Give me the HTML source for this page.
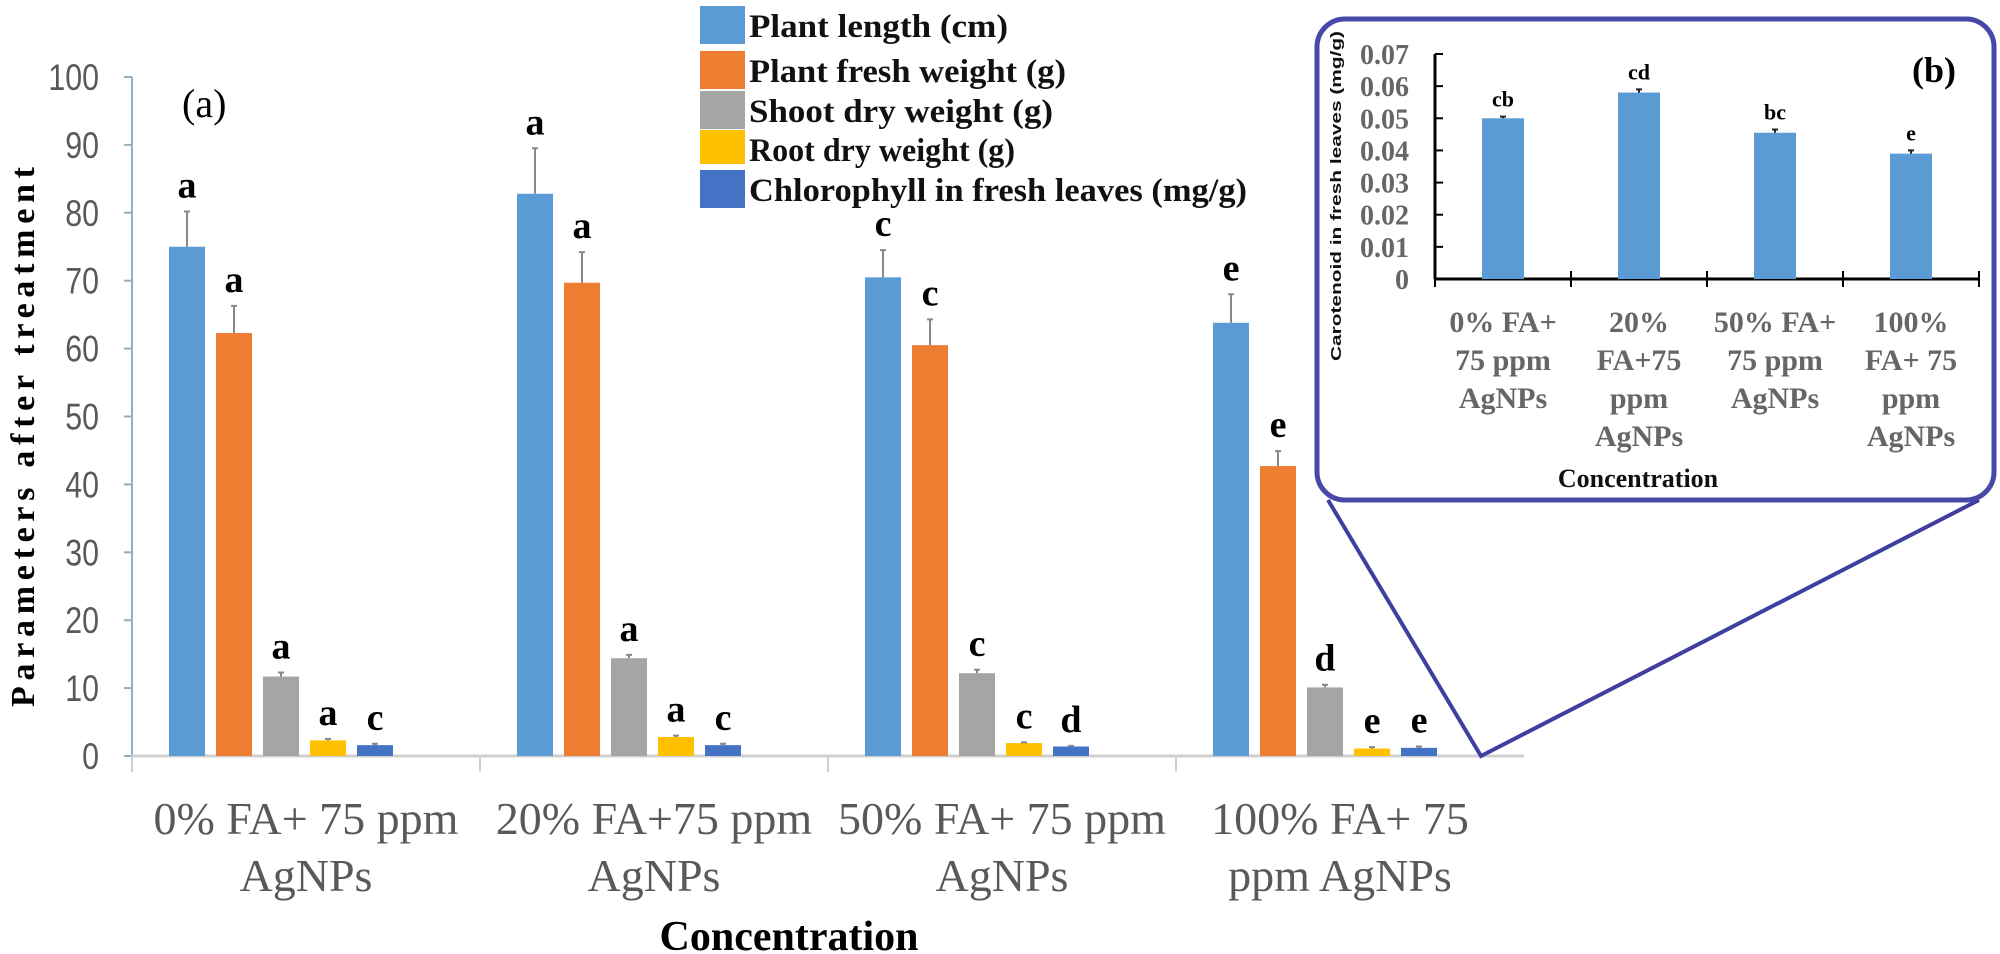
<!DOCTYPE html>
<html><head><meta charset="utf-8"><style>
html,body{margin:0;padding:0;background:#fff;}
svg{display:block;}
.tick{font-family:"Liberation Sans",sans-serif;fill:#595959;}
.ser{font-family:"Liberation Serif",serif;}
</style></head><body>
<svg id="chart" width="2000" height="954" viewBox="0 0 2000 954" xmlns="http://www.w3.org/2000/svg">
<g id="main"></g>
<g id="inset"></g>
</svg>
<script>
// ---- main chart data ----
const categories = ["0% FA+ 75 ppm|AgNPs","20% FA+75 ppm|AgNPs","50% FA+ 75 ppm|AgNPs","100% FA+ 75|ppm AgNPs"];
const seriesNames = ["Plant length (cm)","Plant fresh weight (g)","Shoot dry weight (g)","Root dry weight (g)","Chlorophyll in fresh leaves (mg/g)"];
const plantLength = [75, 82.8, 70.5, 63.8];
const freshWeight = [62.3, 69.7, 60.5, 42.7];
const shootDry = [11.7, 14.4, 12.2, 10.1];
const rootDry = [2.3, 2.8, 1.9, 1.1];
const chlorophyll = [1.6, 1.6, 1.4, 1.2];
const errLength = [5.2, 6.7, 4.0, 4.2];
const errFresh = [4.0, 4.5, 3.8, 2.2];
const errShoot = [0.6, 0.5, 0.5, 0.4];
const errRoot = [0.2, 0.2, 0.1, 0.2];
const errChl = [0.2, 0.2, 0.1, 0.2];
const lettersLength = ["a","a","c","e"];
const lettersFresh = ["a","a","c","e"];
const lettersShoot = ["a","a","c","d"];
const lettersRoot = ["a","a","c","e"];
const lettersChl = ["c","c","d","e"];
const yTicks = [0,10,20,30,40,50,60,70,80,90,100];
// ---- inset data ----
const insetCategories = ["0% FA+|75 ppm|AgNPs","20%|FA+75|ppm|AgNPs","50% FA+|75 ppm|AgNPs","100%|FA+ 75|ppm|AgNPs"];
const carotenoid = [0.050, 0.058, 0.0455, 0.039];
const errCarotenoid = [0.0005, 0.001, 0.001, 0.001];
const lettersCarotenoid = ["cb","cd","bc","e"];
const insetTicks = [0,0.01,0.02,0.03,0.04,0.05,0.06,0.07];

const NS="http://www.w3.org/2000/svg";
function mk(parent,tag,attrs,text){const e=document.createElementNS(NS,tag);for(const k in attrs)e.setAttribute(k,attrs[k]);if(text!==undefined)e.textContent=text;parent.appendChild(e);return e;}

const colors=["#5b9bd5","#ed7d31","#a5a5a5","#ffc000","#4472c4"];
const series=[plantLength,freshWeight,shootDry,rootDry,chlorophyll];
const errs=[errLength,errFresh,errShoot,errRoot,errChl];
const letters=[lettersLength,lettersFresh,lettersShoot,lettersRoot,lettersChl];

const main=document.getElementById('main');
const X0=132, GW=348, Y0=756, Y100=77;
const yS=v=>Y0-(v/100)*(Y0-Y100);
const slotX=(g,s)=>X0+37+g*GW+s*47;

// y axis
let el=mk(main,'line',{x1:X0,y1:Y100,x2:X0,y2:Y0,stroke:'#8fb0c0','stroke-width':2});

yTicks.forEach(t=>{
  let tk=mk(main,'line',{x1:X0-8,y1:yS(t),x2:X0,y2:yS(t),stroke:'#8fb0c0','stroke-width':2});
  
  const tx=X0-33;
  let tl=mk(main,'text',{x:tx,y:yS(t)+13,'text-anchor':'end','font-size':37,class:'tick',transform:`translate(${tx},0) scale(0.82,1) translate(${-tx},0)`},t);
  
});
// x axis
el=mk(main,'line',{x1:X0,y1:Y0,x2:X0+4*GW,y2:Y0,stroke:'#d0d0d0','stroke-width':3});

for(let g=0;g<=3;g++){
  let d=mk(main,'line',{x1:X0+g*GW,y1:Y0,x2:X0+g*GW,y2:772,stroke:'#d0d0d0','stroke-width':2});
  
}
// bars
categories.forEach((c,g)=>{
  series.forEach((arr,s)=>{
    const x=slotX(g,s), top=yS(arr[g]);
    let b=mk(main,'rect',{x:x,y:top,width:36,height:Y0-top,fill:colors[s]});
    
    const et=yS(arr[g]+errs[s][g]);
    let e=mk(main,'path',{d:`M${x+18},${top} V${et} M${x+15},${et} H${x+21}`,stroke:'#888','stroke-width':2,fill:'none'});
    
    let l=mk(main,'text',{x:x+18,y:et-14,'text-anchor':'middle','font-size':38,'font-weight':'bold',class:'ser',fill:'#000'},letters[s][g]);
    
  });
  const parts=c.split('|');
  parts.forEach((p,i)=>{
    let t=mk(main,'text',{x:X0+g*GW+GW/2+(g==3?-10:0),y:834+i*57,'text-anchor':'middle','font-size':46,class:'ser',fill:'#595959'},p);
    
  });
});
el=mk(main,'text',{x:789,y:950,'text-anchor':'middle','font-size':42,'font-weight':'bold',class:'ser',fill:'#000'},'Concentration');

el=mk(main,'text',{x:0,y:0,'text-anchor':'middle','font-size':34,'font-weight':'bold',class:'ser',fill:'#000',transform:'translate(34,437) rotate(-90)',textLength:540,lengthAdjust:'spacing'},'Parameters after treatment');

el=mk(main,'text',{x:182,y:117,'font-size':40,class:'ser',fill:'#000'},'(a)');

// legend
const legendTops=[6,51,91,130,170], legendLens=[259,317,304,266,498];
seriesNames.forEach((n,i)=>{
  let sw=mk(main,'rect',{x:700,y:legendTops[i],width:45,height:i==3?34:38,fill:colors[i]});
  
  let t=mk(main,'text',{x:749,y:legendTops[i]+31,'font-size':33,'font-weight':'bold',class:'ser',fill:'#111',textLength:legendLens[i],lengthAdjust:'spacingAndGlyphs'},n);
  
});

// ---- inset ----
const ins=document.getElementById('inset');
el=mk(ins,'path',{d:'M1328,500 L1481,756 L1979,500',stroke:'#3f3fa0','stroke-width':4,fill:'none'});

el=mk(ins,'rect',{x:1317,y:19,width:677,height:481,rx:28,fill:'#fff',stroke:'#4848a8','stroke-width':5});

const IX0=1435, IGW=136, IY0=279, IY07=54;
const iy=v=>IY0-(v/0.07)*(IY0-IY07);
el=mk(ins,'line',{x1:IX0,y1:IY07,x2:IX0,y2:IY0,stroke:'#000','stroke-width':3});

el=mk(ins,'line',{x1:IX0,y1:IY0,x2:IX0+4*IGW,y2:IY0,stroke:'#000','stroke-width':3});

for(let g=0;g<=4;g++){
  let d=mk(ins,'line',{x1:IX0+g*IGW,y1:IY0-8,x2:IX0+g*IGW,y2:IY0+8,stroke:'#000','stroke-width':2});
  
}
insetTicks.forEach(t=>{
  let tk=mk(ins,'line',{x1:IX0,y1:iy(t),x2:IX0+8,y2:iy(t),stroke:'#000','stroke-width':2});
  
  let tl=mk(ins,'text',{x:1409,y:iy(t)+10,'text-anchor':'end','font-size':28,'font-weight':'bold',class:'ser',fill:'#666'},t===0?'0':t.toFixed(2));
  
});
insetCategories.forEach((c,g)=>{
  const cx=IX0+g*IGW+IGW/2, top=iy(carotenoid[g]);
  let b=mk(ins,'rect',{x:cx-21,y:top,width:42,height:IY0-top,fill:'#5b9bd5'});
  
  const et=iy(carotenoid[g]+errCarotenoid[g]);
  let e=mk(ins,'path',{d:`M${cx},${top} V${et} M${cx-3},${et} H${cx+3}`,stroke:'#222','stroke-width':2,fill:'none'});
  
  let l=mk(ins,'text',{x:cx,y:et-10,'text-anchor':'middle','font-size':22,'font-weight':'bold',class:'ser',fill:'#000'},lettersCarotenoid[g]);
  
  c.split('|').forEach((p,i)=>{
    let t=mk(ins,'text',{x:cx,y:332+i*38,'text-anchor':'middle','font-size':30,'font-weight':'bold',class:'ser',fill:'#666'},p);
    
  });
});
el=mk(ins,'text',{x:1638,y:487,'text-anchor':'middle','font-size':26,'font-weight':'bold',class:'ser',fill:'#111'},'Concentration');

el=mk(ins,'text',{x:0,y:0,'text-anchor':'middle','font-size':15,'font-weight':'bold','font-family':'Liberation Sans, sans-serif',fill:'#111',transform:'translate(1341,196) rotate(-90)',textLength:330,lengthAdjust:'spacingAndGlyphs'},'Carotenoid in fresh leaves (mg/g)');

el=mk(ins,'text',{x:1912,y:82,'font-size':36,'font-weight':'bold',class:'ser',fill:'#000'},'(b)');

</script>
</body></html>
